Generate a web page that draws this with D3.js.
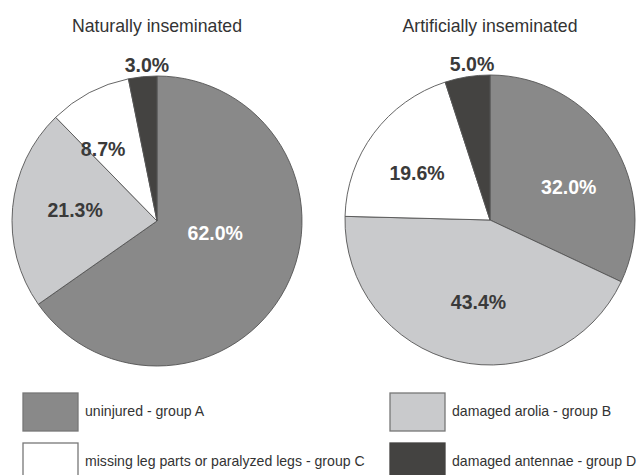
<!DOCTYPE html>
<html>
<head>
<meta charset="utf-8">
<script src="https://cdn.jsdelivr.net/npm/d3@7"></script>
<style>
  html, body { margin: 0; padding: 0; background: #fff; }
  svg { display: block; }
  text { font-family: "Liberation Sans", Arial, sans-serif; }
</style>
</head>
<body>
<svg id="chart" width="640" height="475"></svg>
<script>
// Injury groups, in drawing order (clockwise from 12 o'clock)
const groups = ["A", "B", "C", "D"];
const groupLabels = [
  "uninjured - group A",
  "damaged arolia - group B",
  "missing leg parts or paralyzed legs - group C",
  "damaged antennae - group D"
];
const groupColors = ["#898989", "#c9cacc", "#ffffff", "#444341"];
const labelColors = ["#ffffff", "#3a3a3a", "#3a3a3a", "#3a3a3a"];

// Percentage of bees in each group
const naturalValues = [62.0, 21.3, 8.7, 3.0];
const artificialValues = [32.0, 43.4, 19.6, 5.0];
const pieTitles = ["Naturally inseminated", "Artificially inseminated"];

// Label placement: radius fraction and angular nudge (degrees) per slice
const labelLayout = [
  { rf: [0.41, 0.57, 0.62, 1.08], da: [-16, 2.6, -9, 2] },
  { rf: [0.59, 0.57, 0.60, 1.08], da: [9.4, -5.3, -3.7, 2.4] }
];

const svg = d3.select("#chart");
const radius = 145;
const centers = [{ x: 157, y: 221 }, { x: 490, y: 220 }];
const datasets = [naturalValues, artificialValues];

const pie = d3.pie().sort(null).value(d => d);
const arc = d3.arc().innerRadius(0).outerRadius(radius);

datasets.forEach((values, pi) => {
  const c = centers[pi];
  const g = svg.append("g").attr("transform", `translate(${c.x},${c.y})`);
  const arcs = pie(values);

  g.selectAll("path")
    .data(arcs)
    .join("path")
    .attr("d", arc)
    .attr("fill", (d, i) => groupColors[i])
    .attr("stroke", "#555")
    .attr("stroke-width", 0.9);

  g.selectAll("text.val")
    .data(arcs)
    .join("text")
    .attr("class", "val")
    .attr("transform", (d, i) => {
      const mid = (d.startAngle + d.endAngle) / 2 + labelLayout[pi].da[i] * Math.PI / 180;
      const r = radius * labelLayout[pi].rf[i];
      return `translate(${r * Math.sin(mid)},${-r * Math.cos(mid)})`;
    })
    .attr("text-anchor", "middle")
    .attr("dy", "0.36em")
    .attr("font-size", 19.5)
    .attr("font-weight", "bold")
    .attr("fill", (d, i) => labelColors[i])
    .text(d => d.data.toFixed(1) + "%");

  svg.append("text")
    .attr("x", c.x)
    .attr("y", 32)
    .attr("text-anchor", "middle")
    .attr("font-size", 17.7)
    .attr("fill", "#333")
    .text(pieTitles[pi]);
});

// Legend: two columns, two rows
const legendPos = [
  { x: 23, y: 393 }, { x: 390, y: 393 },
  { x: 23, y: 443 }, { x: 390, y: 443 }
];
const legend = svg.append("g");
const items = legend.selectAll("g")
  .data(groups)
  .join("g")
  .attr("transform", (d, i) => `translate(${legendPos[i].x},${legendPos[i].y})`);

items.append("rect")
  .attr("width", 55)
  .attr("height", 38)
  .attr("fill", (d, i) => groupColors[i])
  .attr("stroke", (d, i) => i === 3 ? "#444341" : "#777")
  .attr("stroke-width", 1.3);

items.append("text")
  .attr("x", 62)
  .attr("y", 23)
  .attr("font-size", 14.1)
  .attr("fill", "#333")
  .text((d, i) => groupLabels[i]);
</script>
</body>
</html>
